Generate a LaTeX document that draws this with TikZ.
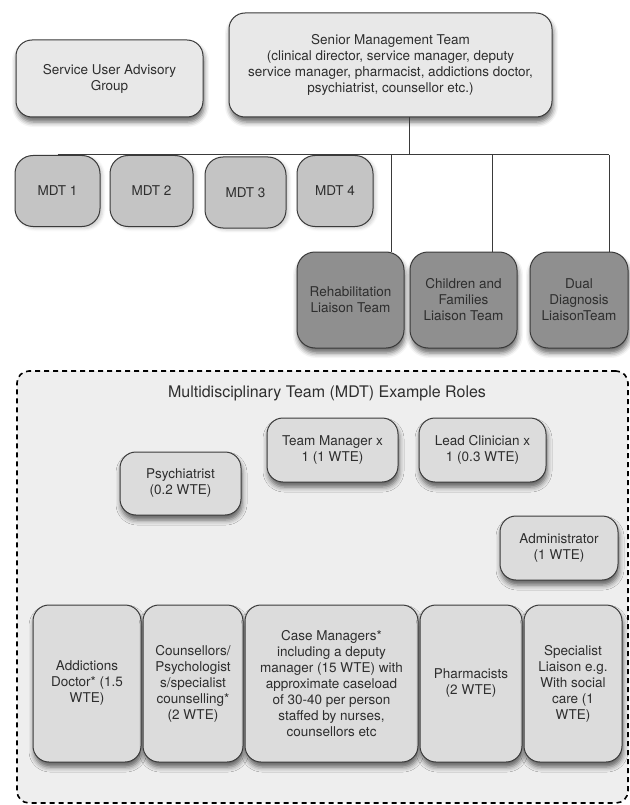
\documentclass[tikz,border=0pt]{standalone}
\usepackage{fontspec}
\setmainfont{TeX Gyre Heros}
\usetikzlibrary{shadows.blur}
\definecolor{inkGray}{HTML}{2E2E2E}
\definecolor{lineGray}{HTML}{3A3A3A}
\definecolor{topFill}{HTML}{E8E8E8}
\definecolor{mdtFill}{HTML}{C4C4C4}
\definecolor{liaisonFill}{HTML}{8F8F8F}
\definecolor{roleFill}{HTML}{DCDCDC}
\definecolor{panelFill}{HTML}{EEEEEE}
\begin{document}
\begin{tikzpicture}[x=1pt,y=-1pt,
		every node/.style={font=\fontsize{13.5}{16}\selectfont, text=inkGray, align=center, inner sep=2pt},
		softshadow/.style={blur shadow={shadow xshift=1pt, shadow yshift=-5pt, shadow blur radius=5pt, shadow opacity=60}},
		group/.style={rectangle, rounded corners=16pt, draw=lineGray, line width=1pt, fill=topFill, softshadow},
		mdt/.style={rectangle, rounded corners=18pt, draw=lineGray, line width=1pt, fill=mdtFill, minimum width=80pt, minimum height=71pt,
			blur shadow={shadow yshift=-2pt, shadow blur radius=3pt, shadow opacity=20}},
		liaison/.style={rectangle, rounded corners=18pt, draw=lineGray, line width=1pt, fill=liaisonFill, minimum height=96pt, softshadow},
		role/.style={rectangle, rounded corners=16pt, draw=lineGray, line width=1pt, fill=roleFill, softshadow},
		panel/.style={rectangle, rounded corners=12pt, draw=black, dashed, dash pattern=on 5pt off 4pt, line width=1.6pt, fill=panelFill},
		link/.style={draw=lineGray, line width=1pt}]
	\useasboundingbox (0,0) rectangle (629,805);
	\node[group, minimum width=187pt, minimum height=77pt] (SUAG) at (109.5,78.5) {Service User Advisory\\Group};
	\node[group, minimum width=323pt, minimum height=104pt] (SMT) at (390.5,65) {Senior Management Team\\(clinical director, service manager, deputy\\service manager, pharmacist, addictions doctor,\\psychiatrist, counsellor etc.)};
	\node[mdt, minimum width=85pt] (MDT1) at (57.5,191) {MDT 1};
	\node[mdt, minimum width=83pt] (MDT2) at (151.5,191) {MDT 2};
	\node[mdt, minimum width=81pt] (MDT3) at (245.5,192.5) {MDT 3};
	\node[mdt, minimum width=76pt] (MDT4) at (335,191) {MDT 4};
	\node[liaison, minimum width=107pt] (Rehab) at (350.5,300) {Rehabilitation\\Liaison Team};
	\node[liaison, minimum width=107pt] (Child) at (463.5,300) {Children and\\Families\\Liaison Team};
	\node[liaison, minimum width=98pt] (Dual) at (579,300) {Dual\\Diagnosis\\LiaisonTeam};
	\coordinate (tapS) at (409,155);
	\coordinate (tapR) at (391,155);
	\coordinate (tapC) at (492,155);
	\coordinate (tapD) at (609,155);
	\draw[link] (SMT.south -| tapS) -- (tapS);
	\draw[link] (MDT1.north) -- (tapD);
	\draw[link] (tapR) -- (Rehab.north -| tapR);
	\draw[link] (tapC) -- (Child.north -| tapC);
	\draw[link] (tapD) -- (Dual.north -| tapD);
	\node[panel, minimum width=611pt, minimum height=432pt] (MDTRoles) at (322.5,587) {};
	\node[font=\fontsize{16}{19}\selectfont] (Title) at (327,393) {Multidisciplinary Team (MDT) Example Roles};
	\node[role, minimum width=131pt, minimum height=64pt] (TeamMgr) at (332.5,450) {Team Manager x\\1 (1 WTE)};
	\node[role, minimum width=127pt, minimum height=64pt] (LeadClin) at (482.5,450) {Lead Clinician x\\1 (0.3 WTE)};
	\node[role, minimum width=121pt, minimum height=63pt] (Psych) at (180.5,483.5) {Psychiatrist\\(0.2 WTE)};
	\node[role, minimum width=118pt, minimum height=64pt] (Admin) at (559,548) {Administrator\\(1 WTE)};
	\node[role, minimum width=108pt, minimum height=157pt] (AddDoc) at (87,683.5) {Addictions\\Doctor* (1.5\\WTE)};
	\node[role, minimum width=100pt, minimum height=157pt] (Couns) at (193,683.5) {Counsellors/\\Psychologist\\s/specialist\\counselling*\\(2 WTE)};
	\node[role, minimum width=173pt, minimum height=157pt] (CaseMgr) at (331.5,683.5) {Case Managers*\\including a deputy\\manager (15 WTE) with\\approximate caseload\\of 30-40 per person\\staffed by nurses,\\counsellors etc};
	\node[role, minimum width=102pt, minimum height=157pt] (Pharm) at (471,683.5) {Pharmacists\\(2 WTE)};
	\node[role, minimum width=98pt, minimum height=157pt] (SpecLiaison) at (573,683.5) {Specialist\\Liaison e.g.\\With social\\care (1\\WTE)};
\end{tikzpicture}
\end{document}
